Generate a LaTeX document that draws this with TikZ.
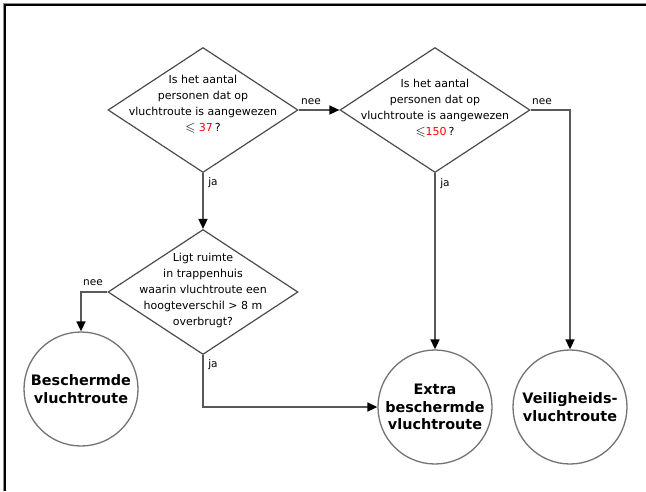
\documentclass[tikz,border=0pt]{standalone}
\usepackage{fontspec}
\setmainfont{DejaVu Sans}
\usepackage{amssymb}
\usetikzlibrary{shapes.geometric,arrows.meta}
\newcommand{\myleq}{{\fontsize{13}{16}\selectfont$\leqslant$}}
\begin{document}
\begin{tikzpicture}[x=1pt,y=-1pt,
  dia/.style={draw=black!70,line width=1.2pt,diamond,minimum width=190pt,minimum height=125pt,inner sep=0pt},
  qtext/.style={align=center,font=\fontsize{11}{16}\selectfont,inner sep=0pt},
  endc/.style={circle,draw=black!55,line width=1.3pt,minimum size=114pt,inner sep=0pt,align=center,font=\fontsize{14.4}{17.5}\selectfont\bfseries},
  conn/.style={draw=black!65,line width=1.6pt,-{Triangle[length=10pt,width=9pt,color=black]}},
  lbl/.style={font=\fontsize{10.5}{12}\selectfont,inner sep=0pt}]
\useasboundingbox (0,0) rectangle (646,491);
\fill[white] (0,0) rectangle (646,491);
% frame
\draw[black!45,line width=1pt] (3.2,491) -- (3.2,3.2) -- (646,3.2);
\draw[black,line width=1.6pt] (4.8,491) -- (4.8,4.8) -- (646,4.8);
% decisions
\node[dia] (d1) at (203,110) {};
\node[qtext] (t1) at (203,104) {Is het aantal\\personen dat op\\vluchtroute is aangewezen\\\myleq\ \textcolor{red}{37}\,?};
\node[dia] (d2) at (435,110) {};
\node[qtext] (t2) at (435,108) {Is het aantal\\personen dat op\\vluchtroute is aangewezen\\\myleq\textcolor{red}{150}\,?};
\node[dia] (d3) at (203,292) {};
\node[qtext] (t3) at (203,290) {Ligt ruimte\\in trappenhuis\\waarin vluchtroute een\\hoogteverschil > 8 m\\overbrugt?};
% end states
\node[endc] (c1) at (81,389) {Beschermde\\vluchtroute};
\node[endc] (c2) at (435,407) {Extra\\beschermde\\vluchtroute};
\node[endc] (c3) at (570,407) {Veiligheids-\\vluchtroute};
% connectors
\draw[conn] (d1.east) -- (d2.west);
\draw[conn] (d1.south) -- (d3.north);
\draw[conn] (d2.east) -| (c3);
\draw[conn] (d2.south) -- (c2.north);
\draw[conn] (d3.west) -| (c1);
\draw[conn] (d3.south) |- (c2);
% labels
\node[lbl] (l1) at (311,102) {nee};
\node[lbl] (l2) at (542,102) {nee};
\node[lbl] (l3) at (213,183) {ja};
\node[lbl] (l4) at (445,184) {ja};
\node[lbl] (l5) at (93,283) {nee};
\node[lbl] (l6) at (213,365) {ja};
\end{tikzpicture}
\end{document}
